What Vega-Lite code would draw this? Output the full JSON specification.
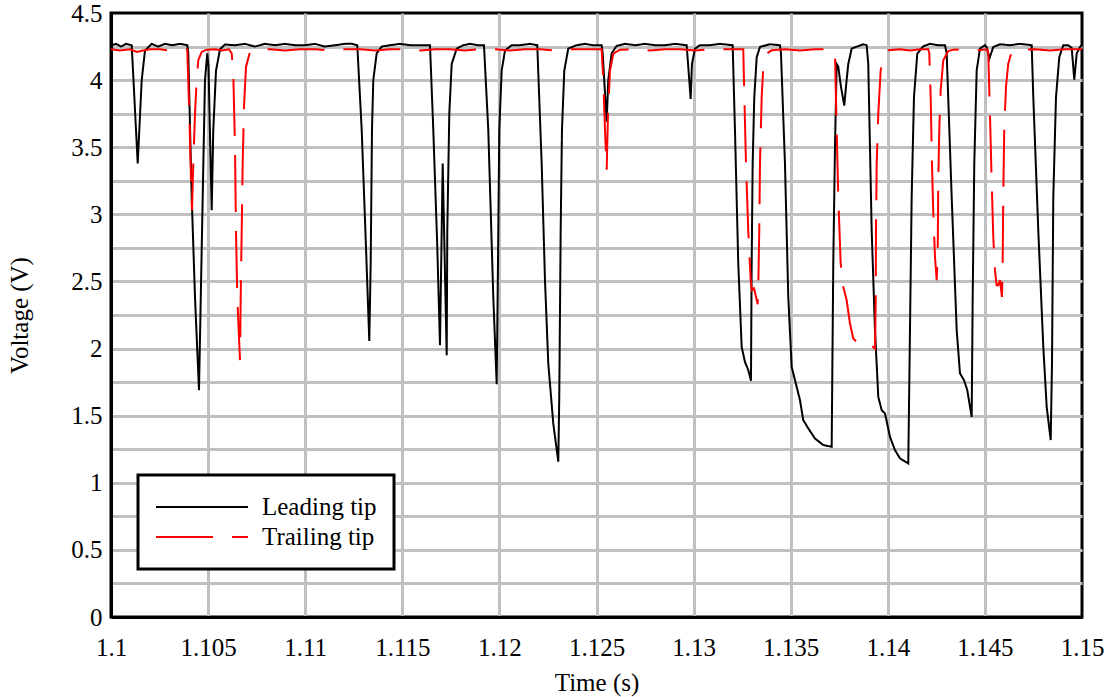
{
 "$schema": "https://vega.github.io/schema/vega-lite/v6.json",
 "width": 971, "height": 604,
 "autosize": {"type": "none"},
 "padding": {"left": 111, "top": 13, "right": 32, "bottom": 80},
 "background": "white",
 "config": {
  "view": {"stroke": "black", "strokeWidth": 3},
  "font": "Liberation Serif",
  "axis": {"labelFont": "Liberation Serif", "titleFont": "Liberation Serif", "labelFontSize": 25, "titleFontSize": 25, "labelColor": "black", "titleColor": "black", "titleFontWeight": "normal", "ticks": false, "tickSize": 0, "domainColor": "black", "domainWidth": 3, "gridColor": "#c0c0c0", "gridWidth": 3, "labelOverlap": false}
 },
 "data": {"values": [
{"t":1.1,"v":4.26,"s":"Leading tip"},{"t":1.100257,"v":4.27,"s":"Leading tip"},{"t":1.100515,"v":4.25,"s":"Leading tip"},{"t":1.100772,"v":4.27,"s":"Leading tip"},{"t":1.101066,"v":4.26,"s":"Leading tip"},{"t":1.101375,"v":3.38,"s":"Leading tip"},{"t":1.101581,"v":4.0,"s":"Leading tip"},{"t":1.101751,"v":4.22,"s":"Leading tip"},{"t":1.102096,"v":4.27,"s":"Leading tip"},{"t":1.10242,"v":4.25,"s":"Leading tip"},{"t":1.102781,"v":4.27,"s":"Leading tip"},{"t":1.103141,"v":4.26,"s":"Leading tip"},{"t":1.103553,"v":4.27,"s":"Leading tip"},{"t":1.103929,"v":4.26,"s":"Leading tip"},{"t":1.10398,"v":4.2,"s":"Leading tip"},{"t":1.104155,"v":3.13,"s":"Leading tip"},{"t":1.104325,"v":2.385,"s":"Leading tip"},{"t":1.104531,"v":1.69,"s":"Leading tip"},{"t":1.104753,"v":3.36,"s":"Leading tip"},{"t":1.10484,"v":4.0,"s":"Leading tip"},{"t":1.104958,"v":4.2,"s":"Leading tip"},{"t":1.10502,"v":4.1,"s":"Leading tip"},{"t":1.105185,"v":3.03,"s":"Leading tip"},{"t":1.105267,"v":3.63,"s":"Leading tip"},{"t":1.105407,"v":4.07,"s":"Leading tip"},{"t":1.105613,"v":4.23,"s":"Leading tip"},{"t":1.10587,"v":4.265,"s":"Leading tip"},{"t":1.106385,"v":4.26,"s":"Leading tip"},{"t":1.1069,"v":4.27,"s":"Leading tip"},{"t":1.107415,"v":4.25,"s":"Leading tip"},{"t":1.10793,"v":4.27,"s":"Leading tip"},{"t":1.108445,"v":4.26,"s":"Leading tip"},{"t":1.108959,"v":4.27,"s":"Leading tip"},{"t":1.109474,"v":4.26,"s":"Leading tip"},{"t":1.109989,"v":4.26,"s":"Leading tip"},{"t":1.110504,"v":4.27,"s":"Leading tip"},{"t":1.111019,"v":4.25,"s":"Leading tip"},{"t":1.111534,"v":4.26,"s":"Leading tip"},{"t":1.112049,"v":4.27,"s":"Leading tip"},{"t":1.112409,"v":4.27,"s":"Leading tip"},{"t":1.112682,"v":4.26,"s":"Leading tip"},{"t":1.112909,"v":3.63,"s":"Leading tip"},{"t":1.11313,"v":2.757,"s":"Leading tip"},{"t":1.1133,"v":2.057,"s":"Leading tip"},{"t":1.113372,"v":2.634,"s":"Leading tip"},{"t":1.113439,"v":3.63,"s":"Leading tip"},{"t":1.113506,"v":4.0,"s":"Leading tip"},{"t":1.113681,"v":4.2,"s":"Leading tip"},{"t":1.113939,"v":4.25,"s":"Leading tip"},{"t":1.114366,"v":4.26,"s":"Leading tip"},{"t":1.114881,"v":4.27,"s":"Leading tip"},{"t":1.115396,"v":4.26,"s":"Leading tip"},{"t":1.115911,"v":4.26,"s":"Leading tip"},{"t":1.116426,"v":4.26,"s":"Leading tip"},{"t":1.116596,"v":3.63,"s":"Leading tip"},{"t":1.116802,"v":2.757,"s":"Leading tip"},{"t":1.11694,"v":2.025,"s":"Leading tip"},{"t":1.11708,"v":3.378,"s":"Leading tip"},{"t":1.117286,"v":1.95,"s":"Leading tip"},{"t":1.117317,"v":2.88,"s":"Leading tip"},{"t":1.11742,"v":3.75,"s":"Leading tip"},{"t":1.117543,"v":4.12,"s":"Leading tip"},{"t":1.117801,"v":4.235,"s":"Leading tip"},{"t":1.118141,"v":4.26,"s":"Leading tip"},{"t":1.118485,"v":4.27,"s":"Leading tip"},{"t":1.118897,"v":4.26,"s":"Leading tip"},{"t":1.119206,"v":4.26,"s":"Leading tip"},{"t":1.119427,"v":3.63,"s":"Leading tip"},{"t":1.119685,"v":2.385,"s":"Leading tip"},{"t":1.11986,"v":1.735,"s":"Leading tip"},{"t":1.119927,"v":2.634,"s":"Leading tip"},{"t":1.119994,"v":3.63,"s":"Leading tip"},{"t":1.120117,"v":4.07,"s":"Leading tip"},{"t":1.120287,"v":4.22,"s":"Leading tip"},{"t":1.120632,"v":4.26,"s":"Leading tip"},{"t":1.12106,"v":4.26,"s":"Leading tip"},{"t":1.121575,"v":4.27,"s":"Leading tip"},{"t":1.12195,"v":4.26,"s":"Leading tip"},{"t":1.122177,"v":3.378,"s":"Leading tip"},{"t":1.122347,"v":2.51,"s":"Leading tip"},{"t":1.122517,"v":1.889,"s":"Leading tip"},{"t":1.122774,"v":1.442,"s":"Leading tip"},{"t":1.123032,"v":1.157,"s":"Leading tip"},{"t":1.123083,"v":1.64,"s":"Leading tip"},{"t":1.123155,"v":2.88,"s":"Leading tip"},{"t":1.123222,"v":3.63,"s":"Leading tip"},{"t":1.123341,"v":4.07,"s":"Leading tip"},{"t":1.123547,"v":4.235,"s":"Leading tip"},{"t":1.123979,"v":4.26,"s":"Leading tip"},{"t":1.124406,"v":4.27,"s":"Leading tip"},{"t":1.124818,"v":4.26,"s":"Leading tip"},{"t":1.125266,"v":4.26,"s":"Leading tip"},{"t":1.125318,"v":4.2,"s":"Leading tip"},{"t":1.125524,"v":3.69,"s":"Leading tip"},{"t":1.125606,"v":4.0,"s":"Leading tip"},{"t":1.125781,"v":4.2,"s":"Leading tip"},{"t":1.126039,"v":4.255,"s":"Leading tip"},{"t":1.126466,"v":4.27,"s":"Leading tip"},{"t":1.126981,"v":4.26,"s":"Leading tip"},{"t":1.127496,"v":4.27,"s":"Leading tip"},{"t":1.128011,"v":4.26,"s":"Leading tip"},{"t":1.128526,"v":4.26,"s":"Leading tip"},{"t":1.12904,"v":4.27,"s":"Leading tip"},{"t":1.129643,"v":4.26,"s":"Leading tip"},{"t":1.129849,"v":3.86,"s":"Leading tip"},{"t":1.129916,"v":4.12,"s":"Leading tip"},{"t":1.13007,"v":4.235,"s":"Leading tip"},{"t":1.130328,"v":4.26,"s":"Leading tip"},{"t":1.130843,"v":4.26,"s":"Leading tip"},{"t":1.131358,"v":4.27,"s":"Leading tip"},{"t":1.132012,"v":4.26,"s":"Leading tip"},{"t":1.13213,"v":3.63,"s":"Leading tip"},{"t":1.1323,"v":2.634,"s":"Leading tip"},{"t":1.132475,"v":2.013,"s":"Leading tip"},{"t":1.132645,"v":1.9,"s":"Leading tip"},{"t":1.132815,"v":1.84,"s":"Leading tip"},{"t":1.132954,"v":1.76,"s":"Leading tip"},{"t":1.13299,"v":2.634,"s":"Leading tip"},{"t":1.133041,"v":3.378,"s":"Leading tip"},{"t":1.133124,"v":3.87,"s":"Leading tip"},{"t":1.133248,"v":4.17,"s":"Leading tip"},{"t":1.133418,"v":4.247,"s":"Leading tip"},{"t":1.133933,"v":4.267,"s":"Leading tip"},{"t":1.134447,"v":4.26,"s":"Leading tip"},{"t":1.134499,"v":4.2,"s":"Leading tip"},{"t":1.134705,"v":3.378,"s":"Leading tip"},{"t":1.134875,"v":2.385,"s":"Leading tip"},{"t":1.13505,"v":1.864,"s":"Leading tip"},{"t":1.13522,"v":1.765,"s":"Leading tip"},{"t":1.135477,"v":1.616,"s":"Leading tip"},{"t":1.135647,"v":1.467,"s":"Leading tip"},{"t":1.135905,"v":1.405,"s":"Leading tip"},{"t":1.13625,"v":1.33,"s":"Leading tip"},{"t":1.136677,"v":1.281,"s":"Leading tip"},{"t":1.13711,"v":1.268,"s":"Leading tip"},{"t":1.137192,"v":2.634,"s":"Leading tip"},{"t":1.13728,"v":3.5,"s":"Leading tip"},{"t":1.137367,"v":4.12,"s":"Leading tip"},{"t":1.13745,"v":4.1,"s":"Leading tip"},{"t":1.137589,"v":3.95,"s":"Leading tip"},{"t":1.137759,"v":3.81,"s":"Leading tip"},{"t":1.137846,"v":3.95,"s":"Leading tip"},{"t":1.137965,"v":4.12,"s":"Leading tip"},{"t":1.13814,"v":4.235,"s":"Leading tip"},{"t":1.138737,"v":4.267,"s":"Leading tip"},{"t":1.138912,"v":4.26,"s":"Leading tip"},{"t":1.138994,"v":4.12,"s":"Leading tip"},{"t":1.13917,"v":2.88,"s":"Leading tip"},{"t":1.13934,"v":2.137,"s":"Leading tip"},{"t":1.13951,"v":1.64,"s":"Leading tip"},{"t":1.139685,"v":1.541,"s":"Leading tip"},{"t":1.139855,"v":1.517,"s":"Leading tip"},{"t":1.140112,"v":1.342,"s":"Leading tip"},{"t":1.14037,"v":1.243,"s":"Leading tip"},{"t":1.140627,"v":1.182,"s":"Leading tip"},{"t":1.141054,"v":1.144,"s":"Leading tip"},{"t":1.141142,"v":2.137,"s":"Leading tip"},{"t":1.141229,"v":3.13,"s":"Leading tip"},{"t":1.141348,"v":3.874,"s":"Leading tip"},{"t":1.141518,"v":4.197,"s":"Leading tip"},{"t":1.141827,"v":4.252,"s":"Leading tip"},{"t":1.142172,"v":4.27,"s":"Leading tip"},{"t":1.142584,"v":4.26,"s":"Leading tip"},{"t":1.142944,"v":4.26,"s":"Leading tip"},{"t":1.143032,"v":4.2,"s":"Leading tip"},{"t":1.143289,"v":3.13,"s":"Leading tip"},{"t":1.143547,"v":2.137,"s":"Leading tip"},{"t":1.143717,"v":1.815,"s":"Leading tip"},{"t":1.143923,"v":1.765,"s":"Leading tip"},{"t":1.144093,"v":1.69,"s":"Leading tip"},{"t":1.144319,"v":1.49,"s":"Leading tip"},{"t":1.144371,"v":2.385,"s":"Leading tip"},{"t":1.144453,"v":3.378,"s":"Leading tip"},{"t":1.144577,"v":4.073,"s":"Leading tip"},{"t":1.144747,"v":4.235,"s":"Leading tip"},{"t":1.145004,"v":4.26,"s":"Leading tip"},{"t":1.145107,"v":4.24,"s":"Leading tip"},{"t":1.145226,"v":4.16,"s":"Leading tip"},{"t":1.145432,"v":4.247,"s":"Leading tip"},{"t":1.145777,"v":4.267,"s":"Leading tip"},{"t":1.146292,"v":4.26,"s":"Leading tip"},{"t":1.146807,"v":4.27,"s":"Leading tip"},{"t":1.147409,"v":4.26,"s":"Leading tip"},{"t":1.147492,"v":3.874,"s":"Leading tip"},{"t":1.147749,"v":2.88,"s":"Leading tip"},{"t":1.148007,"v":2.013,"s":"Leading tip"},{"t":1.148182,"v":1.566,"s":"Leading tip"},{"t":1.148388,"v":1.318,"s":"Leading tip"},{"t":1.148455,"v":1.889,"s":"Leading tip"},{"t":1.148522,"v":3.13,"s":"Leading tip"},{"t":1.148661,"v":3.874,"s":"Leading tip"},{"t":1.148831,"v":4.172,"s":"Leading tip"},{"t":1.149037,"v":4.26,"s":"Leading tip"},{"t":1.149294,"v":4.26,"s":"Leading tip"},{"t":1.149469,"v":4.24,"s":"Leading tip"},{"t":1.149603,"v":4.004,"s":"Leading tip"},{"t":1.149727,"v":4.197,"s":"Leading tip"},{"t":1.149897,"v":4.247,"s":"Leading tip"},{"t":1.15,"v":4.26,"s":"Leading tip"},
{"t":1.1,"v":4.23,"s":"Trailing tip"},{"t":1.100463,"v":4.22,"s":"Trailing tip"},{"t":1.100978,"v":4.23,"s":"Trailing tip"},{"t":1.101339,"v":4.21,"s":"Trailing tip"},{"t":1.101648,"v":4.22,"s":"Trailing tip"},{"t":1.102008,"v":4.23,"s":"Trailing tip"},{"t":1.102523,"v":4.23,"s":"Trailing tip"},{"t":1.103038,"v":4.22,"s":"Trailing tip"},{"t":1.103553,"v":4.23,"s":"Trailing tip"},{"t":1.103898,"v":4.23,"s":"Trailing tip"},{"t":1.103929,"v":4.22,"s":"Trailing tip"},{"t":1.104032,"v":3.75,"s":"Trailing tip"},{"t":1.104119,"v":3.254,"s":"Trailing tip"},{"t":1.104171,"v":3.03,"s":"Trailing tip"},{"t":1.104238,"v":3.378,"s":"Trailing tip"},{"t":1.104325,"v":3.75,"s":"Trailing tip"},{"t":1.104413,"v":4.0,"s":"Trailing tip"},{"t":1.104495,"v":4.148,"s":"Trailing tip"},{"t":1.10467,"v":4.21,"s":"Trailing tip"},{"t":1.104928,"v":4.227,"s":"Trailing tip"},{"t":1.105355,"v":4.23,"s":"Trailing tip"},{"t":1.105715,"v":4.22,"s":"Trailing tip"},{"t":1.106076,"v":4.23,"s":"Trailing tip"},{"t":1.106215,"v":4.2,"s":"Trailing tip"},{"t":1.106297,"v":4.05,"s":"Trailing tip"},{"t":1.106385,"v":3.5,"s":"Trailing tip"},{"t":1.106436,"v":2.88,"s":"Trailing tip"},{"t":1.106503,"v":2.385,"s":"Trailing tip"},{"t":1.106575,"v":2.137,"s":"Trailing tip"},{"t":1.106642,"v":1.914,"s":"Trailing tip"},{"t":1.106679,"v":2.385,"s":"Trailing tip"},{"t":1.10673,"v":2.88,"s":"Trailing tip"},{"t":1.106781,"v":3.378,"s":"Trailing tip"},{"t":1.106848,"v":3.8,"s":"Trailing tip"},{"t":1.106951,"v":4.098,"s":"Trailing tip"},{"t":1.107157,"v":4.21,"s":"Trailing tip"},{"t":1.107502,"v":4.227,"s":"Trailing tip"},{"t":1.108187,"v":4.23,"s":"Trailing tip"},{"t":1.108959,"v":4.22,"s":"Trailing tip"},{"t":1.109732,"v":4.23,"s":"Trailing tip"},{"t":1.110504,"v":4.23,"s":"Trailing tip"},{"t":1.111277,"v":4.22,"s":"Trailing tip"},{"t":1.112049,"v":4.23,"s":"Trailing tip"},{"t":1.112821,"v":4.23,"s":"Trailing tip"},{"t":1.113594,"v":4.22,"s":"Trailing tip"},{"t":1.114366,"v":4.23,"s":"Trailing tip"},{"t":1.115139,"v":4.23,"s":"Trailing tip"},{"t":1.115911,"v":4.22,"s":"Trailing tip"},{"t":1.116684,"v":4.23,"s":"Trailing tip"},{"t":1.117456,"v":4.23,"s":"Trailing tip"},{"t":1.118228,"v":4.22,"s":"Trailing tip"},{"t":1.119001,"v":4.23,"s":"Trailing tip"},{"t":1.119773,"v":4.23,"s":"Trailing tip"},{"t":1.120546,"v":4.22,"s":"Trailing tip"},{"t":1.121318,"v":4.23,"s":"Trailing tip"},{"t":1.12209,"v":4.23,"s":"Trailing tip"},{"t":1.122863,"v":4.22,"s":"Trailing tip"},{"t":1.123635,"v":4.23,"s":"Trailing tip"},{"t":1.124406,"v":4.23,"s":"Trailing tip"},{"t":1.125266,"v":4.23,"s":"Trailing tip"},{"t":1.125349,"v":4.0,"s":"Trailing tip"},{"t":1.125437,"v":3.63,"s":"Trailing tip"},{"t":1.125524,"v":3.33,"s":"Trailing tip"},{"t":1.125592,"v":3.75,"s":"Trailing tip"},{"t":1.125695,"v":4.07,"s":"Trailing tip"},{"t":1.125864,"v":4.197,"s":"Trailing tip"},{"t":1.12621,"v":4.227,"s":"Trailing tip"},{"t":1.126981,"v":4.23,"s":"Trailing tip"},{"t":1.127754,"v":4.22,"s":"Trailing tip"},{"t":1.128526,"v":4.23,"s":"Trailing tip"},{"t":1.129298,"v":4.23,"s":"Trailing tip"},{"t":1.13007,"v":4.22,"s":"Trailing tip"},{"t":1.130843,"v":4.23,"s":"Trailing tip"},{"t":1.131615,"v":4.23,"s":"Trailing tip"},{"t":1.132557,"v":4.23,"s":"Trailing tip"},{"t":1.132594,"v":4.0,"s":"Trailing tip"},{"t":1.132697,"v":3.378,"s":"Trailing tip"},{"t":1.132815,"v":2.88,"s":"Trailing tip"},{"t":1.132939,"v":2.51,"s":"Trailing tip"},{"t":1.133005,"v":2.435,"s":"Trailing tip"},{"t":1.133108,"v":2.448,"s":"Trailing tip"},{"t":1.133175,"v":2.41,"s":"Trailing tip"},{"t":1.133299,"v":2.33,"s":"Trailing tip"},{"t":1.13333,"v":2.46,"s":"Trailing tip"},{"t":1.133381,"v":2.88,"s":"Trailing tip"},{"t":1.133418,"v":3.378,"s":"Trailing tip"},{"t":1.133506,"v":3.874,"s":"Trailing tip"},{"t":1.133589,"v":4.098,"s":"Trailing tip"},{"t":1.133763,"v":4.197,"s":"Trailing tip"},{"t":1.134019,"v":4.222,"s":"Trailing tip"},{"t":1.134705,"v":4.23,"s":"Trailing tip"},{"t":1.135477,"v":4.22,"s":"Trailing tip"},{"t":1.13625,"v":4.23,"s":"Trailing tip"},{"t":1.137022,"v":4.23,"s":"Trailing tip"},{"t":1.137228,"v":4.22,"s":"Trailing tip"},{"t":1.13728,"v":4.2,"s":"Trailing tip"},{"t":1.137367,"v":3.63,"s":"Trailing tip"},{"t":1.13745,"v":3.13,"s":"Trailing tip"},{"t":1.137573,"v":2.634,"s":"Trailing tip"},{"t":1.137707,"v":2.46,"s":"Trailing tip"},{"t":1.137881,"v":2.36,"s":"Trailing tip"},{"t":1.138053,"v":2.187,"s":"Trailing tip"},{"t":1.138221,"v":2.075,"s":"Trailing tip"},{"t":1.138465,"v":2.04,"s":"Trailing tip"},{"t":1.138737,"v":2.013,"s":"Trailing tip"},{"t":1.138877,"v":2.02,"s":"Trailing tip"},{"t":1.139032,"v":2.01,"s":"Trailing tip"},{"t":1.139186,"v":2.02,"s":"Trailing tip"},{"t":1.13934,"v":2.0,"s":"Trailing tip"},{"t":1.139376,"v":2.336,"s":"Trailing tip"},{"t":1.139392,"v":2.88,"s":"Trailing tip"},{"t":1.139428,"v":3.378,"s":"Trailing tip"},{"t":1.13951,"v":3.75,"s":"Trailing tip"},{"t":1.139634,"v":4.073,"s":"Trailing tip"},{"t":1.139804,"v":4.197,"s":"Trailing tip"},{"t":1.140025,"v":4.222,"s":"Trailing tip"},{"t":1.140627,"v":4.23,"s":"Trailing tip"},{"t":1.141142,"v":4.22,"s":"Trailing tip"},{"t":1.141657,"v":4.23,"s":"Trailing tip"},{"t":1.142084,"v":4.23,"s":"Trailing tip"},{"t":1.142136,"v":4.2,"s":"Trailing tip"},{"t":1.142208,"v":3.874,"s":"Trailing tip"},{"t":1.142275,"v":3.378,"s":"Trailing tip"},{"t":1.142342,"v":3.006,"s":"Trailing tip"},{"t":1.14243,"v":2.683,"s":"Trailing tip"},{"t":1.142517,"v":2.51,"s":"Trailing tip"},{"t":1.142569,"v":2.708,"s":"Trailing tip"},{"t":1.1426,"v":3.254,"s":"Trailing tip"},{"t":1.142651,"v":3.63,"s":"Trailing tip"},{"t":1.142723,"v":3.924,"s":"Trailing tip"},{"t":1.142857,"v":4.148,"s":"Trailing tip"},{"t":1.143115,"v":4.217,"s":"Trailing tip"},{"t":1.143372,"v":4.227,"s":"Trailing tip"},{"t":1.143975,"v":4.23,"s":"Trailing tip"},{"t":1.14449,"v":4.22,"s":"Trailing tip"},{"t":1.145122,"v":4.23,"s":"Trailing tip"},{"t":1.145174,"v":4.2,"s":"Trailing tip"},{"t":1.14526,"v":3.75,"s":"Trailing tip"},{"t":1.145348,"v":3.254,"s":"Trailing tip"},{"t":1.145432,"v":2.83,"s":"Trailing tip"},{"t":1.145518,"v":2.584,"s":"Trailing tip"},{"t":1.145605,"v":2.472,"s":"Trailing tip"},{"t":1.145688,"v":2.472,"s":"Trailing tip"},{"t":1.145777,"v":2.51,"s":"Trailing tip"},{"t":1.145878,"v":2.385,"s":"Trailing tip"},{"t":1.145914,"v":2.634,"s":"Trailing tip"},{"t":1.145945,"v":3.13,"s":"Trailing tip"},{"t":1.145996,"v":3.63,"s":"Trailing tip"},{"t":1.146085,"v":3.949,"s":"Trailing tip"},{"t":1.146203,"v":4.123,"s":"Trailing tip"},{"t":1.146377,"v":4.21,"s":"Trailing tip"},{"t":1.146807,"v":4.227,"s":"Trailing tip"},{"t":1.147577,"v":4.23,"s":"Trailing tip"},{"t":1.148349,"v":4.22,"s":"Trailing tip"},{"t":1.149121,"v":4.23,"s":"Trailing tip"},{"t":1.15,"v":4.23,"s":"Trailing tip"}
 ]},
 "mark": {"type": "line", "strokeWidth": 2, "clip": true},
 "encoding": {
  "x": {"field": "t", "type": "quantitative", "scale": {"domain": [1.1, 1.15], "nice": false, "zero": false},
   "axis": {"title": "Time (s)", "values": [1.1,1.105,1.11,1.115,1.12,1.125,1.13,1.135,1.14,1.145,1.15], "format": ".4~f", "labelPadding": 18, "titlePadding": 10, "labelFlush": false,
    "gridOpacity": {"condition": {"test": "datum.value < 1.1001 || datum.value > 1.1499", "value": 0}, "value": 1}}},
  "y": {"field": "v", "type": "quantitative", "scale": {"domain": [0, 4.5], "nice": false},
   "axis": {"title": "Voltage (V)", "values": [0,0.25,0.5,0.75,1,1.25,1.5,1.75,2,2.25,2.5,2.75,3,3.25,3.5,3.75,4,4.25,4.5], "labelExpr": "datum.value % 0.5 == 0 ? format(datum.value, '~g') : ''", "labelPadding": 9, "titlePadding": 38,
    "gridOpacity": {"condition": {"test": "datum.value < 0.01 || datum.value > 4.49", "value": 0}, "value": 1}}},
  "color": {"field": "s", "type": "nominal", "scale": {"domain": ["Leading tip", "Trailing tip"], "range": ["#000000", "#ff0000"]},
   "legend": {"title": null, "orient": "none", "legendX": 27, "legendY": 462, "symbolType": "stroke", "symbolSize": 8464, "symbolStrokeWidth": 2, "labelFont": "Liberation Serif", "labelFontSize": 25, "labelColor": "black", "labelOffset": 13, "padding": 17, "rowPadding": 0, "clipHeight": 30, "strokeColor": "black", "fillColor": "white", "labelLimit": 300,
    "encode": {"legend": {"update": {"strokeWidth": {"value": 3}}}}}},
  "strokeDash": {"field": "s", "type": "nominal", "scale": {"domain": ["Leading tip", "Trailing tip"], "range": [[1,0],[57,19]]},
   "legend": {"title": null, "orient": "none", "legendX": 27, "legendY": 462, "symbolType": "stroke", "symbolSize": 8464, "symbolStrokeWidth": 2, "labelFont": "Liberation Serif", "labelFontSize": 25, "labelColor": "black", "labelOffset": 13, "padding": 17, "rowPadding": 0, "clipHeight": 30, "strokeColor": "black", "fillColor": "white", "labelLimit": 300,
    "encode": {"legend": {"update": {"strokeWidth": {"value": 3}}}}}}
 }
}
